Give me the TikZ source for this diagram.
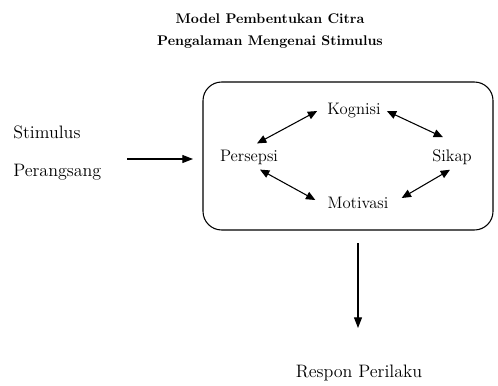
\documentclass[tikz,border=0pt]{standalone}
\usepackage{tikz}
\usetikzlibrary{positioning,arrows.meta}
\tikzset{
  >={Triangle[length=8pt,width=6pt]},
  txt/.style={inner sep=0pt, font=\fontsize{12.5}{15}\selectfont},
  outtxt/.style={inner sep=0pt, font=\fontsize{13.5}{16}\selectfont},
  ttl/.style={inner sep=0pt, align=center, font=\fontsize{10.5}{17}\selectfont\bfseries},
  link/.style={<->, thick, >={Triangle[length=7pt,width=6pt]}},
}

\begin{document}
\begin{tikzpicture}[x=0.75pt,y=-0.75pt]
\useasboundingbox (0,0) rectangle (498,385);

\node[ttl] (title) at (270,31) {Model Pembentukan Citra\\Pengalaman Mengenai Stimulus};

\node[outtxt, anchor=west] (stim) at (13,132) {Stimulus};
\node[outtxt, anchor=west] (rang) at (13,172) {Perangsang};

\node[draw, thick, rounded corners=14pt, minimum width=217.5pt, minimum height=111pt] (frame) at (348,156) {};

\node[txt] (kog) at (354,111) {Kognisi};
\node[txt] (pers) at (249,157) {Persepsi};
\node[txt] (sik) at (452,157) {Sikap};
\node[txt] (mot) at (358,203) {Motivasi};

\node[outtxt] (resp) at (359,373) {Respon Perilaku};

\coordinate (in) at (127,159);
\coordinate (outtop) at (358,243);
\coordinate (outbot) at (358,328);

\draw[->, thick] (in) -- (193,159);
\draw[->, thick] (outtop) -- (outbot);

\draw[link] ([shift={(8,-6)}]pers.north) -- ([shift={(-10,0)}]kog.west);
\draw[link] ([shift={(6,0)}]kog.east) -- ([shift={(-9,-12)}]sik.north);
\draw[link] ([shift={(11,5)}]pers.south) -- ([shift={(-12,-3)}]mot.west);
\draw[link] ([shift={(13,-5)}]mot.east) -- ([shift={(-2,5)}]sik.south);
\end{tikzpicture}
\end{document}
